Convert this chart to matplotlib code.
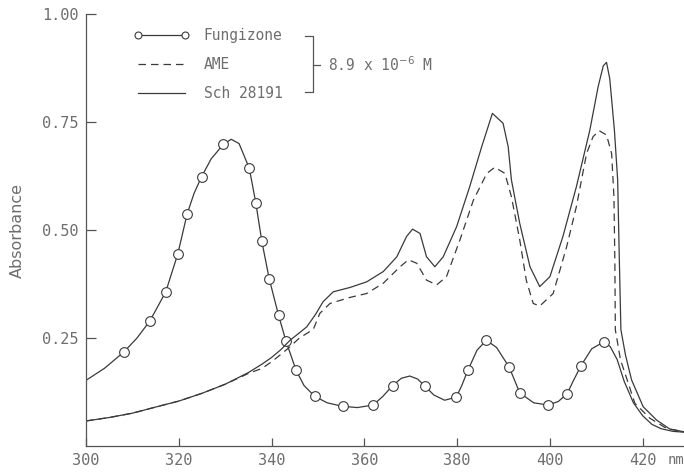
import matplotlib
matplotlib.use("Agg")
import matplotlib.pyplot as plt
from matplotlib import lines

# --- data (wavelength nm, absorbance) ---
fung_nm = [300, 304, 308.2, 311, 313.8, 317.2, 319.8, 321.8, 323.3, 324.9, 327, 329.6,
           331.3, 333, 335.2, 336.6, 337.9, 339.5, 341.5, 343.1, 345.3, 347, 349.3, 352,
           355.3, 358.5, 361.9, 364, 366.1, 368, 369.8, 371.5, 373.1, 375, 377.3, 379.8,
           381, 382.3, 384.3, 386.3, 388.5, 391.2, 393.5, 396.5, 399.6, 401.8, 403.7, 405,
           406.7, 409, 411.6, 413, 414.5, 416, 418, 420, 422, 424, 426.5, 428.9]
fung_abs = [0.152, 0.18, 0.218, 0.25, 0.29, 0.357, 0.445, 0.537, 0.585, 0.623, 0.665, 0.698,
            0.71, 0.70, 0.643, 0.563, 0.474, 0.387, 0.303, 0.243, 0.175, 0.14, 0.115, 0.10,
            0.092, 0.089, 0.095, 0.115, 0.14, 0.157, 0.162, 0.155, 0.138, 0.118, 0.106, 0.113,
            0.14, 0.175, 0.222, 0.245, 0.228, 0.183, 0.123, 0.10, 0.095, 0.103, 0.121, 0.15,
            0.186, 0.225, 0.241, 0.23, 0.20, 0.15, 0.10, 0.07, 0.05, 0.04, 0.034, 0.032]

# measured points (circles) on the Fungizone trace
circ_nm = [308.2, 313.8, 317.2, 319.8, 321.8, 324.9, 329.6, 335.2, 336.6, 337.9, 339.5,
           341.5, 343.1, 345.3, 349.3, 355.3, 361.9, 366.1, 373.1, 379.8, 382.3, 386.3,
           391.2, 393.5, 399.6, 403.7, 406.7, 411.6]
circ_abs = [0.218, 0.29, 0.357, 0.445, 0.537, 0.623, 0.698, 0.643, 0.563, 0.474, 0.387,
            0.303, 0.243, 0.175, 0.115, 0.092, 0.095, 0.14, 0.138, 0.113, 0.175, 0.245,
            0.183, 0.123, 0.095, 0.121, 0.186, 0.241]

sch_nm = [300, 305, 310, 316, 320, 325, 330, 335, 338, 340, 342, 344, 346, 347.6, 349.5,
          351.1, 353.3, 356.9, 360.5, 364.1, 367, 369.1, 370.4, 372, 373.4, 375.2, 377,
          379.9, 382.7, 385.3, 387.6, 389.9, 391, 391.7, 393.5, 395.7, 397.8, 400, 402.8,
          405.7, 408.6, 410.4, 411.5, 412.2, 412.9, 413.9, 414.6, 414.9, 415.3, 416.3,
          417.6, 420.1, 423, 425.9, 428.9]
sch_abs = [0.058, 0.066, 0.076, 0.093, 0.104, 0.122, 0.143, 0.17, 0.19, 0.205, 0.223, 0.245,
           0.262, 0.276, 0.305, 0.334, 0.357, 0.367, 0.38, 0.404, 0.438, 0.485, 0.502, 0.492,
           0.438, 0.415, 0.438, 0.508, 0.60, 0.693, 0.77, 0.747, 0.693, 0.616, 0.515, 0.415,
           0.369, 0.392, 0.485, 0.60, 0.731, 0.832, 0.88, 0.888, 0.85, 0.731, 0.616, 0.461,
           0.269, 0.21, 0.153, 0.091, 0.06, 0.039, 0.033]

ame_nm = [300, 305, 310, 316, 320, 325, 330, 335, 338, 340, 342, 344, 346, 349, 350.4,
          352.6, 356.9, 360.5, 364.1, 367.7, 369.5, 371.3, 373.4, 375.6, 377.7, 380.6,
          383.5, 386.4, 388.1, 390.3, 391.7, 393.5, 394.9, 396.4, 397.8, 400.7, 403.6,
          405.7, 407.9, 409.3, 410.6, 412.2, 413.3, 413.8, 414, 414.1, 415.2, 416.9, 418.3,
          421.6, 425.1, 428.9]
ame_abs = [0.058, 0.066, 0.076, 0.093, 0.104, 0.122, 0.143, 0.168, 0.18, 0.195, 0.212, 0.23,
           0.25, 0.27, 0.307, 0.33, 0.344, 0.353, 0.377, 0.415, 0.431, 0.423, 0.384, 0.373,
           0.392, 0.477, 0.569, 0.631, 0.645, 0.631, 0.577, 0.477, 0.384, 0.33, 0.324, 0.353,
           0.461, 0.554, 0.677, 0.716, 0.73, 0.72, 0.677, 0.577, 0.423, 0.269, 0.20, 0.145,
           0.099, 0.064, 0.041, 0.033]

x_ticks = [300, 320, 340, 360, 380, 400, 420]
y_ticks = [0.25, 0.50, 0.75, 1.00]
y_labels = ["0.25", "0.50", "0.75", "1.00"]

ink = "#3a3a3a"
txt = "#6e6e6e"
mono = "DejaVu Sans Mono"
dash = (0, (6, 4))

fig = plt.figure(figsize=(6.84, 4.74), dpi=100)
ax = fig.add_axes([0.1257, 0.059, 0.8743, 0.9115])

ax.plot(fung_nm, fung_abs, color=ink, lw=0.9)
ax.plot(circ_nm, circ_abs, ls="none", marker="o", ms=7, mfc="white", mec=ink, mew=0.8)
ax.plot(ame_nm, ame_abs, color=ink, lw=0.9, ls=dash)
ax.plot(sch_nm, sch_abs, color=ink, lw=0.9)

ax.set_xlim(300, 428.9)
ax.set_ylim(0, 1.0)
ax.spines["top"].set_visible(False)
ax.spines["right"].set_visible(False)
for s in ("left", "bottom"):
    ax.spines[s].set_color("#555555")
    ax.spines[s].set_linewidth(0.9)

ax.set_xticks(x_ticks)
ax.set_xticklabels([str(v) for v in x_ticks])
ax.set_yticks(y_ticks)
ax.set_yticklabels(y_labels)
ax.tick_params(axis="x", direction="in", length=6, width=0.9, color="#555555",
               labelcolor=txt, labelsize=11, pad=5)
ax.tick_params(axis="y", direction="in", length=7, width=0.9, color="#555555",
               labelcolor=txt, labelsize=11, pad=5.5)
for lab in ax.get_xticklabels() + ax.get_yticklabels():
    lab.set_family(mono)
ax.text(1.0, -0.032, "nm", transform=ax.transAxes, ha="right", va="center",
        color=txt, fontsize=10, family=mono)

ax.set_ylabel("Absorbance", color=txt, fontsize=11.5, labelpad=12)

# legend
h_f = lines.Line2D([], [], color=ink, lw=0.9, marker="o", ms=5, mfc="white", mec=ink, mew=0.8)
h_a = lines.Line2D([], [], color=ink, lw=0.9, ls=dash)
h_s = lines.Line2D([], [], color=ink, lw=0.9)
leg = ax.legend([h_f, h_a, h_s], ["Fungizone", "AME", "Sch 28191"], numpoints=2,
                frameon=False, loc="upper left", bbox_to_anchor=(0.058, 0.998),
                handlelength=3.8, handletextpad=1.0, labelspacing=0.95,
                prop={"family": mono, "size": 10.5})
for t in leg.get_texts():
    t.set_color(txt)

# bracket grouping the three samples
tr = ax.transAxes
bx = (313 - 86) / 598
ax.plot([bx - 0.014, bx, bx, bx - 0.014], [0.950, 0.950, 0.819, 0.819],
        color="#555555", lw=0.9, transform=tr, clip_on=False)
ax.plot([bx, bx + 0.012], [0.882, 0.882], color="#555555", lw=0.9, transform=tr)
ax.text(bx + 0.025, 0.882, r"8.9 x 10$^{-6}$ M", transform=tr, va="center", ha="left",
        color=txt, fontsize=10.5, family=mono)

fig.savefig("out.png", dpi=100)
